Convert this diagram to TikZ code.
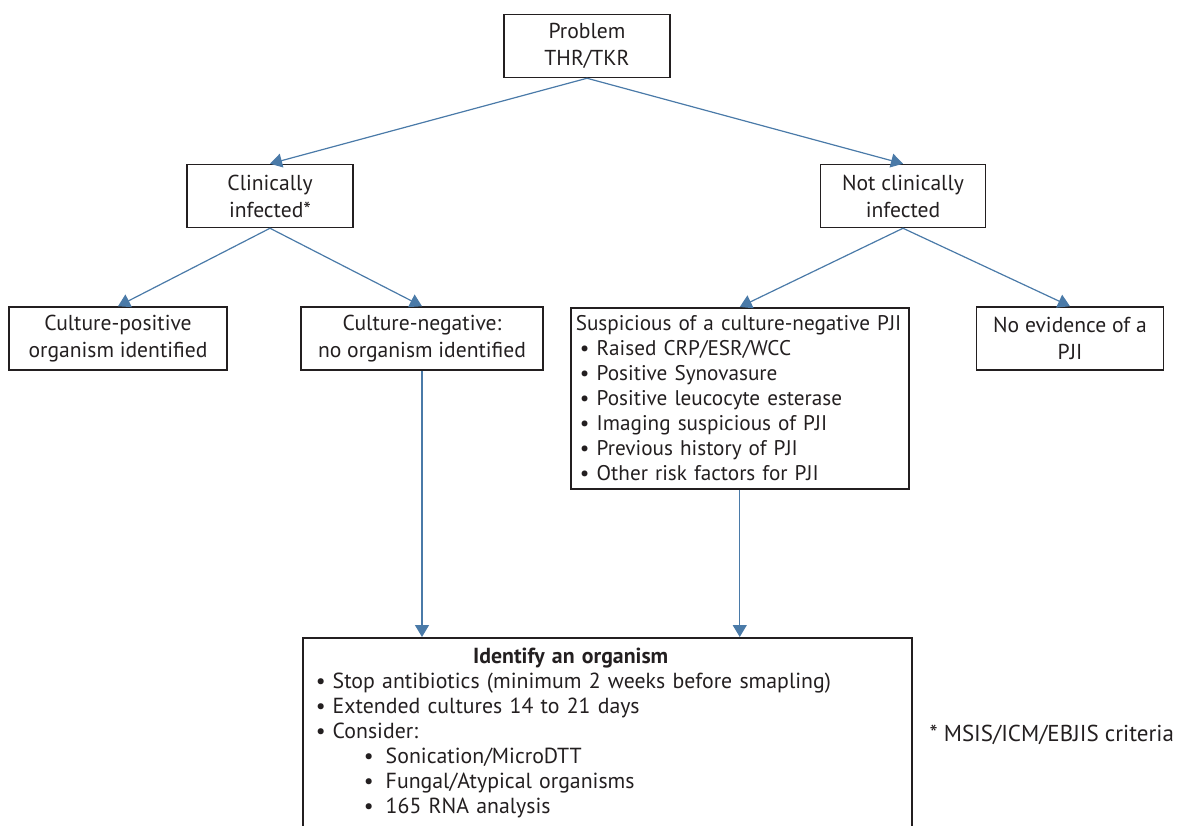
\documentclass[tikz,border=0pt]{standalone}
\usepackage{fontspec}
\setmainfont{PT Sans}
\usetikzlibrary{arrows.meta}
\definecolor{linkblue}{RGB}{74,122,168}
\definecolor{inkgrey}{RGB}{35,31,32}
\newcommand{\blt}{\makebox[8.5pt][l]{\textbullet}}
\newcommand{\subblt}{\hspace*{24pt}\makebox[11pt][l]{\textbullet}}
\tikzset{
  box/.style={draw=inkgrey, line width=0.75pt, text=inkgrey, align=center,
    font=\fontsize{10.8}{13.5}\selectfont, minimum height=31.5pt, inner sep=2pt},
  listbox/.style={box, anchor=north west, align=left, font=\fontsize{10.6}{12.5}\selectfont}
}

\begin{document}
\begin{tikzpicture}[x=0.5pt, y=-0.5pt, ->, >={Triangle[width=7pt,length=6pt]}, color=linkblue, line width=0.6pt]
    \clip (0,0) rectangle (1178,825);
    \node (prob) [box, minimum width=83pt] at (587,46) {Problem\\THR/TKR};
    \node (clin) [box, minimum width=83pt] at (270,196) {Clinically\\infected*};
    \node (notclin) [box, minimum width=82.5pt] at (903,196) {Not clinically\\infected};
    \node (cpos) [box, minimum width=109pt] at (118,338.5) {Culture-positive\\organism identified};
    \node (cneg) [box, minimum width=121pt] at (422,338.5) {Culture-negative:\\no organism identified};
    \node (noev) [box, minimum width=93.5pt] at (1070,338.5) {No evidence of a\\PJI};
    \node (susp) [listbox, text width=164pt, inner xsep=2.5pt, inner ysep=4pt] at (570,307)
      {Suspicious of a culture-negative PJI\\
       \hspace*{2pt}\blt Raised CRP/ESR/WCC\\
       \hspace*{2pt}\blt Positive Synovasure\\
       \hspace*{2pt}\blt Positive leucocyte esterase\\
       \hspace*{2pt}\blt Imaging suspicious of PJI\\
       \hspace*{2pt}\blt Previous history of PJI\\
       \hspace*{2pt}\blt Other risk factors for PJI};
    \node (ident) [listbox, font=\fontsize{10.9}{12.5}\selectfont, text width=291.5pt, inner xsep=6.5pt, inner ysep=5pt] at (302,637)
      {\makebox[255pt]{\bfseries Identify an organism}\\
       \blt Stop antibiotics (minimum 2 weeks before smapling)\\
       \blt Extended cultures 14 to 21 days\\
       \blt Consider:\\
       \subblt Sonication/MicroDTT\\
       \subblt Fungal/Atypical organisms\\
       \subblt 165 RNA analysis\rule[-14pt]{0pt}{14pt}};
    \node (note) [text=inkgrey, anchor=west, inner sep=0pt, font=\fontsize{11.5}{13.5}\selectfont] at (929,735) {* MSIS/ICM/EBJIS criteria};

    \draw (prob.south) -- (clin.north);
    \draw (prob.south) -- (notclin.north);
    \draw (clin.south) -- (cpos.north);
    \draw (clin.south) -- (cneg.north);
    \draw (notclin.south) -- (susp.north);
    \draw (notclin.south) -- (noev.north);
    \draw (cneg.south) -- (cneg.south |- ident.north);
    \draw (susp.south) -- (susp.south |- ident.north);
\end{tikzpicture}
\end{document}
